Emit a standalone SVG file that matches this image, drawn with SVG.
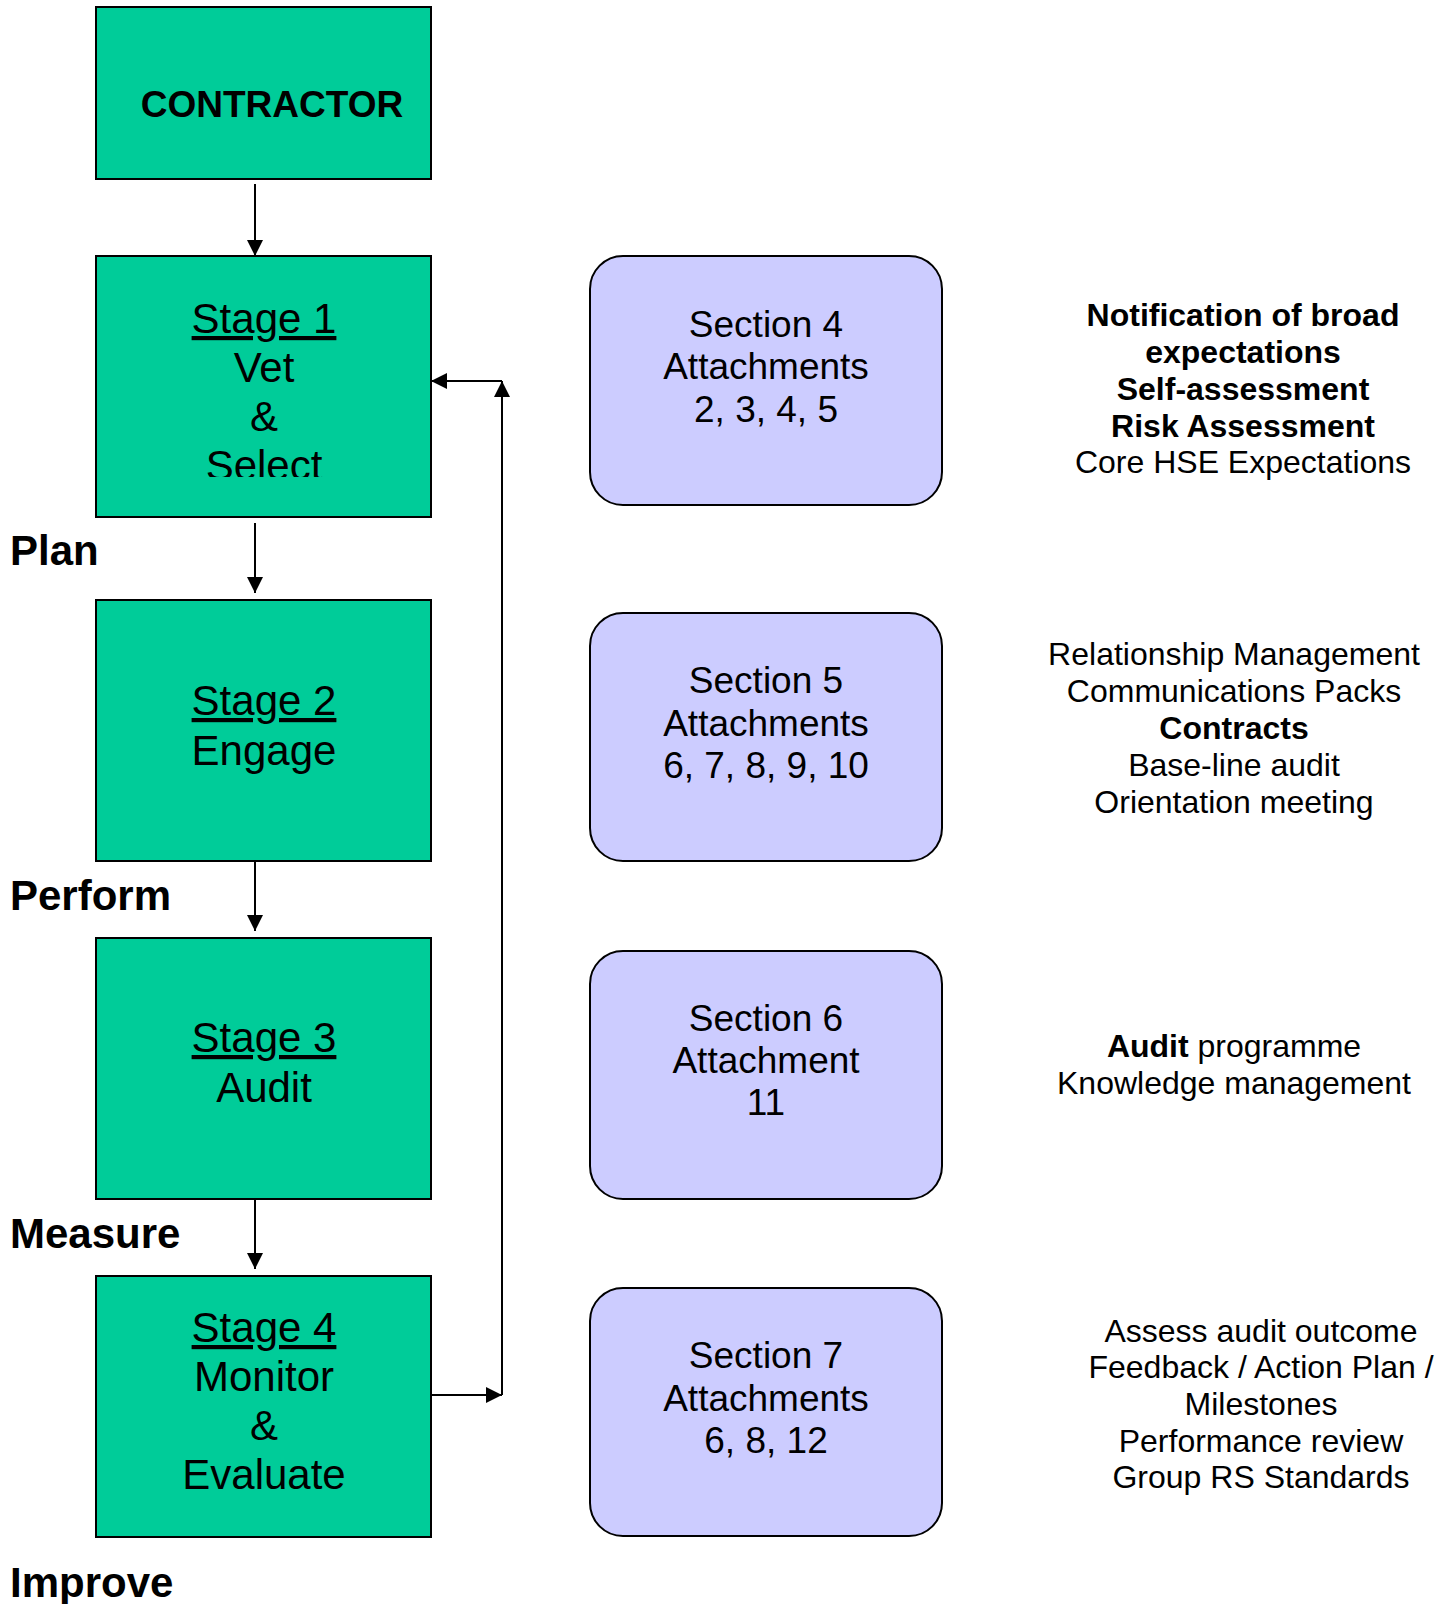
<svg xmlns="http://www.w3.org/2000/svg" width="1452" height="1604" viewBox="0 0 1452 1604">
<style>
.stage{fill:#00CC99;stroke:#000;stroke-width:2}
.sec{fill:#CCCCFF;stroke:#000;stroke-width:2}
.t{font-family:"Liberation Sans",Arial,sans-serif;fill:#000}
.st{font-size:42px;text-anchor:middle}
.sc{font-size:37px;text-anchor:middle}
.rt{font-size:32px;text-anchor:middle}
.lab{font-size:42px;font-weight:bold}
.b{font-weight:bold}
.u{text-decoration:underline;text-decoration-skip-ink:none}
.conn{fill:none;stroke:#000;stroke-width:2}
</style>
<defs>
<marker id="ah" markerUnits="userSpaceOnUse" markerWidth="16" markerHeight="16" refX="16" refY="8" orient="auto">
<path d="M0,0 L16,8 L0,16 z" fill="#000"/>
</marker>
<clipPath id="clip1"><rect x="96" y="256" width="335" height="221"/></clipPath>
</defs>
<rect width="1452" height="1604" fill="#fff"/>

<g id="contractor">
<rect class="stage" x="96" y="7" width="335" height="172"/>
<text class="t b" x="272" y="117" font-size="37" text-anchor="middle">CONTRACTOR</text>
</g>

<g id="stage1">
<rect class="stage" x="96" y="256" width="335" height="261"/>
<g clip-path="url(#clip1)">
<text class="t st" x="264" y="333"><tspan class="u">Stage 1</tspan></text>
<text class="t st" x="264" y="382">Vet</text>
<text class="t st" x="264" y="431">&amp;</text>
<text class="t st" x="264" y="480">Select</text>
</g>
</g>

<g id="stage2">
<rect class="stage" x="96" y="600" width="335" height="261"/>
<text class="t st" x="264" y="715"><tspan class="u">Stage 2</tspan></text>
<text class="t st" x="264" y="765">Engage</text>
</g>

<g id="stage3">
<rect class="stage" x="96" y="938" width="335" height="261"/>
<text class="t st" x="264" y="1052"><tspan class="u">Stage 3</tspan></text>
<text class="t st" x="264" y="1102">Audit</text>
</g>

<g id="stage4">
<rect class="stage" x="96" y="1276" width="335" height="261"/>
<text class="t st" x="264" y="1342"><tspan class="u">Stage 4</tspan></text>
<text class="t st" x="264" y="1391">Monitor</text>
<text class="t st" x="264" y="1440">&amp;</text>
<text class="t st" x="264" y="1489">Evaluate</text>
</g>

<g id="labels">
<text class="t lab" x="10" y="565">Plan</text>
<text class="t lab" x="10" y="910">Perform</text>
<text class="t lab" x="10" y="1248">Measure</text>
<text class="t lab" x="10" y="1597">Improve</text>
</g>

<g id="section4">
<rect class="sec" x="590" y="256" width="352" height="249" rx="33" ry="33"/>
<text class="t sc" x="766" y="337">Section 4</text>
<text class="t sc" x="766" y="379">Attachments</text>
<text class="t sc" x="766" y="422">2, 3, 4, 5</text>
</g>

<g id="section5">
<rect class="sec" x="590" y="613" width="352" height="248" rx="33" ry="33"/>
<text class="t sc" x="766" y="693">Section 5</text>
<text class="t sc" x="766" y="736">Attachments</text>
<text class="t sc" x="766" y="778">6, 7, 8, 9, 10</text>
</g>

<g id="section6">
<rect class="sec" x="590" y="951" width="352" height="248" rx="33" ry="33"/>
<text class="t sc" x="766" y="1031">Section 6</text>
<text class="t sc" x="766" y="1073">Attachment</text>
<text class="t sc" x="766" y="1115">11</text>
</g>

<g id="section7">
<rect class="sec" x="590" y="1288" width="352" height="248" rx="33" ry="33"/>
<text class="t sc" x="766" y="1368">Section 7</text>
<text class="t sc" x="766" y="1411">Attachments</text>
<text class="t sc" x="766" y="1453">6, 8, 12</text>
</g>

<g id="notes1">
<text class="t rt b" x="1243" y="326">Notification of broad</text>
<text class="t rt b" x="1243" y="363">expectations</text>
<text class="t rt b" x="1243" y="400">Self-assessment</text>
<text class="t rt b" x="1243" y="437">Risk Assessment</text>
<text class="t rt" x="1243" y="473">Core HSE Expectations</text>
</g>

<g id="notes2">
<text class="t rt" x="1234" y="665">Relationship Management</text>
<text class="t rt" x="1234" y="702">Communications Packs</text>
<text class="t rt b" x="1234" y="739">Contracts</text>
<text class="t rt" x="1234" y="776">Base-line audit</text>
<text class="t rt" x="1234" y="813">Orientation meeting</text>
</g>

<g id="notes3">
<text class="t rt" x="1234" y="1057"><tspan class="b">Audit</tspan> programme</text>
<text class="t rt" x="1234" y="1094">Knowledge management</text>
</g>

<g id="notes4">
<text class="t rt" x="1261" y="1342">Assess audit outcome</text>
<text class="t rt" x="1261" y="1378">Feedback / Action Plan /</text>
<text class="t rt" x="1261" y="1415">Milestones</text>
<text class="t rt" x="1261" y="1452">Performance review</text>
<text class="t rt" x="1261" y="1488">Group RS Standards</text>
</g>

<g id="connectors">
<line class="conn" x1="255" y1="184" x2="255" y2="256" marker-end="url(#ah)"/>
<line class="conn" x1="255" y1="523" x2="255" y2="593" marker-end="url(#ah)"/>
<line class="conn" x1="255" y1="861" x2="255" y2="931" marker-end="url(#ah)"/>
<line class="conn" x1="255" y1="1199" x2="255" y2="1269" marker-end="url(#ah)"/>
<line class="conn" x1="431" y1="1395" x2="502" y2="1395" marker-end="url(#ah)"/>
<line class="conn" x1="502" y1="1395" x2="502" y2="381" marker-end="url(#ah)"/>
<line class="conn" x1="502" y1="381" x2="431" y2="381" marker-end="url(#ah)"/>
</g>
</svg>
